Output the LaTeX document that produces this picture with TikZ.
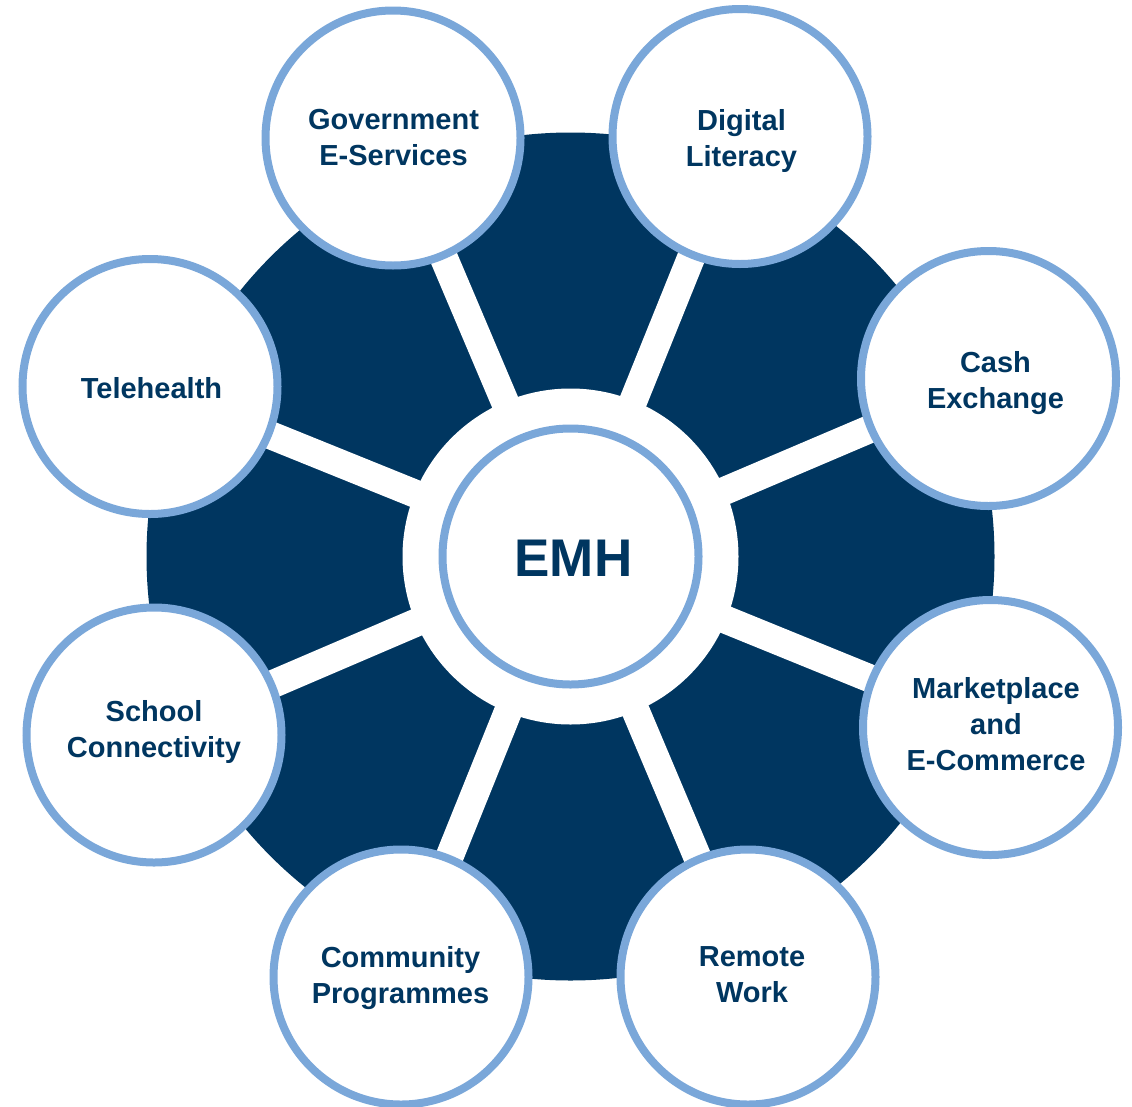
\documentclass[tikz,border=0pt]{standalone}
\usepackage{fontspec}
\setmainfont{Liberation Sans}
\definecolor{navy}{RGB}{0,54,96}
\definecolor{ringblue}{RGB}{122,167,217}
\pgfdeclarelayer{bg}
\pgfdeclarelayer{mid}
\pgfsetlayers{bg,mid,main}
\tikzset{
  outer/.style={circle, draw=ringblue, line width=8pt, fill=white, minimum size=255pt, inner sep=0pt},
  hub/.style={circle, draw=ringblue, line width=8pt, fill=white, minimum size=256pt, inner sep=0pt},
  lbl/.style={align=center, text=navy, inner sep=0pt, font=\bfseries\fontsize{29}{36}\selectfont},
  hublbl/.style={text=navy, inner sep=0pt, font=\bfseries\fontsize{53}{60}\selectfont},
  spoke/.style={white, line width=28pt}
}
\begin{document}
\begin{tikzpicture}[x=1pt,y=-1pt]
\useasboundingbox (0,0) rectangle (1132,1106);
% circles
\node[hub] (emh) at (570.5,556.5) {};
\node[outer] (gov) at (393,138) {};
\node[outer] (dig) at (740,136.5) {};
\node[outer] (cash) at (988.5,378.5) {};
\node[outer] (mkt) at (990.5,727.5) {};
\node[outer] (rem) at (748,977) {};
\node[outer] (com) at (401,977) {};
\node[outer] (sch) at (154,735) {};
\node[outer] (tel) at (150,386.5) {};
% texts
\node[hublbl] (emh-t) at (573.5,558.5) {EMH};
\node[lbl] (gov-t) at (393.5,138) {Government\\E-Services};
\node[lbl] (dig-t) at (741.5,141) {Digital\\Literacy};
\node[lbl] (cash-t) at (995.5,383.5) {Cash\\Exchange};
\node[lbl] (mkt-t) at (996,724) {Marketplace\\and\\E-Commerce};
\node[lbl] (rem-t) at (752,975) {Remote\\Work};
\node[lbl] (com-t) at (400.5,978) {Community\\Programmes};
\node[lbl] (sch-t) at (154,732) {School\\Connectivity};
\node[lbl] (tel-t) at (151.5,388) {Telehealth};
\begin{pgfonlayer}{bg}
  \fill[navy] (emh.center) circle (424);
  \fill[white] (emh.center) circle (168);
\end{pgfonlayer}
\begin{pgfonlayer}{mid}
  \foreach \n in {gov,dig,cash,mkt,rem,com,sch,tel}
    \draw[spoke] (emh.center) -- (\n.center);
\end{pgfonlayer}
\end{tikzpicture}
\end{document}
